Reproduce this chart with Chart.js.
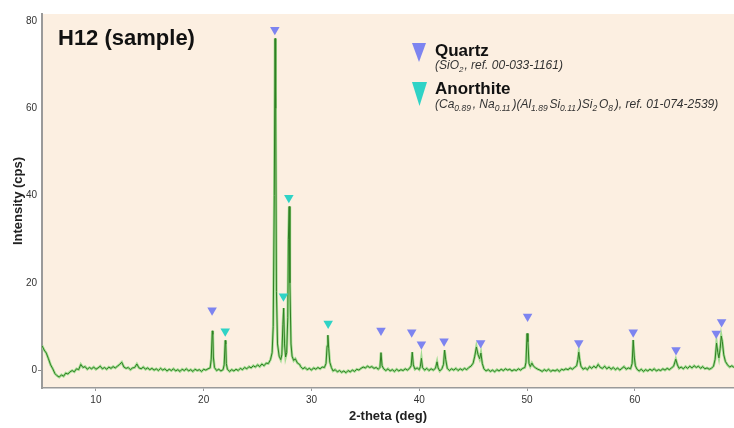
<!DOCTYPE html>
<html>
<head>
<meta charset="utf-8">
<script src="https://cdn.jsdelivr.net/npm/chart.js@4.4.1/dist/chart.umd.min.js"></script>
<style>
  body { margin: 0; background: #fff; }
  #wrap { width: 734px; height: 428px; }
</style>
</head>
<body>
<div id="wrap"><canvas id="xrdChart" width="734" height="428"></canvas></div>
<script>
// --- DATA ---
const twoTheta = [
  5.0, 5.2, 5.4, 5.6, 5.8, 6.0, 6.2, 6.4, 6.6, 6.8, 7.0, 7.2, 7.4, 7.6, 7.8, 8.0, 8.2, 8.4, 8.6, 8.8,
  9.0, 9.2, 9.4, 9.6, 9.8, 10.0, 10.2, 10.4, 10.6, 10.8, 11.0, 11.2, 11.4, 11.6, 11.8, 12.0, 12.2, 12.4, 12.6, 12.8,
  13.0, 13.2, 13.4, 13.6, 13.8, 14.0, 14.2, 14.4, 14.6, 14.8, 15.0, 15.2, 15.4, 15.6, 15.8, 16.0, 16.2, 16.4, 16.6, 16.8,
  17.0, 17.2, 17.4, 17.6, 17.8, 18.0, 18.2, 18.4, 18.6, 18.8, 19.0, 19.2, 19.4, 19.6, 19.8, 20.0, 20.2, 20.4, 20.6, 20.7,
  20.8, 20.85, 20.9, 21.0, 21.2, 21.4, 21.6, 21.8, 21.9, 22.0, 22.05, 22.1, 22.2, 22.4, 22.6, 22.8, 23.0, 23.2, 23.4, 23.6,
  23.8, 24.0, 24.2, 24.4, 24.6, 24.8, 25.0, 25.2, 25.4, 25.6, 25.8, 26.0, 26.2, 26.35, 26.45, 26.55, 26.62, 26.68, 26.75, 26.85,
  27.0, 27.15, 27.25, 27.35, 27.42, 27.5, 27.6, 27.7, 27.8, 27.86, 27.93, 28.0, 28.1, 28.2, 28.35, 28.5, 28.7, 28.9, 29.0, 29.2,
  29.4, 29.6, 29.8, 30.0, 30.2, 30.4, 30.6, 30.8, 31.0, 31.2, 31.35, 31.45, 31.52, 31.6, 31.7, 31.85, 32.0, 32.2, 32.4, 32.6,
  32.8, 33.0, 33.2, 33.4, 33.6, 33.8, 34.0, 34.2, 34.4, 34.6, 34.8, 35.0, 35.2, 35.4, 35.6, 35.8, 36.0, 36.2, 36.35, 36.45,
  36.55, 36.7, 36.9, 37.1, 37.3, 37.5, 37.7, 37.9, 38.1, 38.3, 38.5, 38.7, 38.9, 39.1, 39.25, 39.35, 39.45, 39.6, 39.8, 40.0,
  40.1, 40.2, 40.3, 40.5, 40.7, 40.9, 41.1, 41.3, 41.5, 41.65, 41.75, 41.9, 42.1, 42.25, 42.35, 42.45, 42.6, 42.8, 43.0, 43.2,
  43.4, 43.6, 43.8, 44.0, 44.2, 44.4, 44.6, 44.8, 45.0, 45.15, 45.3, 45.45, 45.6, 45.72, 45.85, 46.0, 46.2, 46.4, 46.6, 46.8,
  47.0, 47.2, 47.4, 47.6, 47.8, 48.0, 48.2, 48.4, 48.6, 48.8, 49.0, 49.2, 49.4, 49.6, 49.8, 49.9, 50.0, 50.08, 50.18, 50.3,
  50.45, 50.6, 50.8, 51.0, 51.2, 51.4, 51.6, 51.8, 52.0, 52.2, 52.4, 52.6, 52.8, 53.0, 53.2, 53.4, 53.6, 53.8, 54.0, 54.2,
  54.4, 54.6, 54.72, 54.8, 54.9, 55.0, 55.2, 55.4, 55.6, 55.8, 56.0, 56.2, 56.4, 56.6, 56.8, 57.0, 57.2, 57.4, 57.6, 57.8,
  58.0, 58.2, 58.4, 58.6, 58.8, 59.0, 59.2, 59.4, 59.6, 59.75, 59.85, 59.95, 60.05, 60.2, 60.4, 60.6, 60.8, 61.0, 61.2, 61.4,
  61.6, 61.8, 62.0, 62.2, 62.4, 62.6, 62.8, 63.0, 63.2, 63.4, 63.6, 63.8, 63.95, 64.1, 64.3, 64.5, 64.7, 64.9, 65.1, 65.3,
  65.5, 65.7, 65.9, 66.1, 66.3, 66.5, 66.7, 66.9, 67.1, 67.3, 67.45, 67.58, 67.7, 67.8, 67.92, 68.02, 68.12, 68.25, 68.4, 68.6,
  68.8, 69.0, 69.2
];
const intensity = [
  5.6, 4.6, 3.9, 2.6, 1.2, 0.3, -0.8, -1.3, -1.6, -1.1, -1.4, -0.7, -0.9, -0.4, -0.1, -0.4, 0.3, 0.1, 1.3, 0.6,
  0.8, 0.2, 0.6, 0.3, 0.7, 0.2, 0.5, 0.9, 0.3, 0.6, 0.2, 0.7, 0.4, 0.8, 0.5, 0.9, 1.3, 1.8, 0.7, 0.4,
  0.6, 0.1, 0.5, 0.6, 1.4, 0.5, 0.3, 0.7, 0.2, 0.5, 0.1, 0.4, 0.0, 0.3, -0.1, 0.4, 0.0, 0.3, -0.2, 0.2,
  -0.1, 0.3, -0.2, 0.1, -0.3, 0.2, -0.1, 0.3, -0.2, 0.1, -0.3, 0.2, -0.1, 0.1, -0.3, 0.2, 0.0, 0.3, 0.5, 2.5,
  9.0, 8.2, 3.0, 0.6, -0.1, 0.2, -0.2, 0.1, 1.2, 6.8, 6.0, 1.5, 0.2, -0.3, 0.1, -0.2, 0.2, -0.1, 0.4, 0.1,
  0.6, 0.3, 0.8, 0.5, 1.0, 0.7, 1.2, 0.8, 1.4, 1.0, 1.6, 1.5, 2.4, 4.0, 10.0, 40.0, 76.0, 60.0, 18.0, 6.0,
  3.2, 2.4, 3.5, 10.5, 14.2, 6.0, 3.0, 4.0, 12.0, 30.0, 37.5, 20.0, 6.0, 3.2, 2.2, 2.6, 1.6, 1.3, 0.8, 0.3,
  0.6, 0.1, 0.4, 0.0, 0.5, 0.2, 0.6, 0.3, 0.7, 0.6, 1.5, 5.5, 8.0, 5.0, 1.8, 0.6, -0.2, 0.1, -0.4, -0.1,
  -0.5, -0.2, -0.6, -0.1, -0.4, 0.0, -0.3, 0.2, 0.0, 0.4, 0.7, 0.5, 0.9, 0.6, 0.8, 0.4, 0.6, 0.2, 0.6, 4.0,
  1.0, 0.3, -0.1, 0.3, -0.2, 0.1, -0.3, 0.2, -0.2, 0.1, -0.1, 0.3, 0.0, 0.4, 1.0, 4.1, 1.2, 0.2, 0.5, 0.1,
  0.8, 2.7, 0.6, 0.0, 0.4, -0.1, 0.3, 0.0, 0.4, 1.9, 0.5, -0.2, 0.3, 1.3, 4.6, 2.5, 0.4, -0.1, 0.3, 0.0,
  0.4, -0.1, 0.3, 0.0, 0.4, 0.1, 0.6, 0.9, 1.6, 3.2, 5.3, 3.6, 2.6, 3.9, 1.5, 0.3, -0.2, 0.1, -0.3, 0.0,
  -0.4, 0.1, -0.2, 0.2, -0.1, 0.3, 0.0, 0.2, -0.2, 0.1, -0.1, 0.3, 0.0, 0.4, 0.6, 1.8, 8.4, 6.5, 1.5, 0.8,
  1.6, 0.9, 0.5, 0.2, 0.0, -0.3, 0.1, -0.2, 0.2, -0.3, 0.0, -0.2, 0.1, -0.3, 0.2, 0.0, 0.3, 0.1, 0.5, 0.2,
  0.6, 1.0, 2.5, 4.1, 2.2, 0.9, 0.2, 0.5, 0.1, 0.8, 0.4, 0.9, 0.5, 1.3, 0.6, 0.4, 0.9, 0.3, 0.7, 0.2,
  0.6, 0.1, 0.5, 0.0, 0.4, 0.8, 0.2, 0.5, 0.3, 1.5, 6.9, 3.0, 1.0, 0.2, -0.2, 0.2, -0.3, 0.1, -0.2, 0.2,
  -0.1, 0.3, -0.2, 0.1, -0.1, 0.3, 0.0, 0.4, 0.1, 0.5, 0.9, 2.5, 1.2, 0.4, 0.7, 0.3, 0.8, 0.4, 0.9, 0.5,
  1.0, 0.6, 0.9, 0.4, 0.8, 0.3, 0.5, 0.2, 0.4, 0.9, 2.5, 6.2, 4.0, 2.8, 5.0, 7.8, 6.5, 3.5, 2.0, 1.2,
  0.7, 1.0, 0.6
];

// phase markers (peak position, marker height)
const quartzPeaks = [20.78, 26.6, 36.45, 39.3, 40.2, 42.3, 45.7, 50.05, 54.8, 59.85, 63.82, 67.55, 68.05];
const quartzMarks = [13.7, 78.0, 9.1, 8.7, 5.9, 6.6, 6.2, 12.3, 6.2, 8.7, 4.6, 8.4, 11.0];
const anorthitePeaks = [22.0, 27.4, 27.9, 31.55];
const anorthiteMarks = [8.9, 16.9, 39.5, 10.7];

const xTicks = [10, 20, 30, 40, 50, 60];
const yTicks = [0, 20, 40, 60, 80];

const FONT = '"Liberation Sans", Arial, Helvetica, sans-serif';
const QUARTZ_COLOR = '#7d84f0';
const ANORTHITE_COLOR = '#2fd3c6';

const patternPoints = twoTheta.map((t, i) => ({ x: t, y: intensity[i] }));

// peach plot area
const plotBackground = {
  id: 'plotBackground',
  beforeDraw(chart) {
    const { ctx, chartArea: a } = chart;
    ctx.save();
    ctx.fillStyle = '#fcefe1';
    ctx.fillRect(a.left, a.top, a.right - a.left, a.bottom - a.top);
    ctx.restore();
  }
};

// draws italic text with subscript parts: [[text, isSub], ...]
function drawRich(ctx, x, y, parts, size, subSize, subGap) {
  parts.forEach(([txt, sub]) => {
    ctx.font = 'italic ' + (sub ? subSize : size) + 'px ' + FONT;
    ctx.fillText(txt, x, sub ? y + 3 : y);
    x += ctx.measureText(txt).width + (sub ? subGap : 0);
  });
}

function downTriangle(ctx, left, top, w, h, color) {
  ctx.fillStyle = color;
  ctx.beginPath();
  ctx.moveTo(left, top);
  ctx.lineTo(left + w, top);
  ctx.lineTo(left + w / 2, top + h);
  ctx.closePath();
  ctx.fill();
}

// title and phase legend
const annotations = {
  id: 'annotations',
  afterDraw(chart) {
    const ctx = chart.ctx;
    ctx.save();
    ctx.textBaseline = 'alphabetic';
    ctx.fillStyle = '#111';
    ctx.font = 'bold 22px ' + FONT;
    ctx.fillText('H12 (sample)', 58, 45);

    downTriangle(ctx, 412, 43, 14, 19, QUARTZ_COLOR);
    downTriangle(ctx, 412, 82, 15, 24, ANORTHITE_COLOR);

    ctx.fillStyle = '#111';
    ctx.font = 'bold 17px ' + FONT;
    ctx.fillText('Quartz', 435, 56);
    ctx.fillText('Anorthite', 435, 94);

    ctx.fillStyle = '#333';
    drawRich(ctx, 435, 69, [['(SiO', 0], ['2', 1], [', ref. 00-033-1161)', 0]], 12, 8, 1);
    drawRich(ctx, 435, 108, [
      ['(Ca', 0], ['0.89', 1], [', Na', 0], ['0.11', 1], [')(Al', 0], ['1.89', 1], ['Si', 0], ['0.11', 1],
      [')Si', 0], ['2', 1], ['O', 0], ['8', 1], ['), ref. 01-074-2539)', 0]
    ], 12, 8.5, 1.8);
    ctx.restore();
  }
};

const ctx = document.getElementById('xrdChart').getContext('2d');
const xrdChart = new Chart(ctx, {
  type: 'line',
  data: {
    datasets: [
      {
        type: 'scatter', order: 0,
        data: quartzPeaks.map((t, i) => ({ x: t, y: quartzMarks[i] })),
        pointStyle: 'triangle', rotation: 180, radius: 5.5, hoverRadius: 5.5,
        backgroundColor: QUARTZ_COLOR, borderColor: QUARTZ_COLOR, borderWidth: 0
      },
      {
        type: 'scatter', order: 0,
        data: anorthitePeaks.map((t, i) => ({ x: t, y: anorthiteMarks[i] })),
        pointStyle: 'triangle', rotation: 180, radius: 5.5, hoverRadius: 5.5,
        backgroundColor: ANORTHITE_COLOR, borderColor: ANORTHITE_COLOR, borderWidth: 0
      },
      { // dark core of the trace
        order: 1,
        data: patternPoints, borderColor: '#2f7f22', borderWidth: 1,
        pointRadius: 0, tension: 0, fill: false
      },
      { // light halo of the trace (drawn underneath)
        order: 2,
        data: patternPoints, borderColor: '#a3dc92', borderWidth: 2.6,
        pointRadius: 0, tension: 0, fill: false
      }
    ]
  },
  options: {
    responsive: false,
    animation: false,
    devicePixelRatio: 1,
    layout: { autoPadding: false, padding: { top: 14, right: 0, left: 0, bottom: 0 } },
    plugins: { legend: { display: false }, tooltip: { enabled: false } },
    scales: {
      x: {
        type: 'linear', min: 5, max: 69.2,
        afterFit: s => { s.height = 40; s.paddingLeft = 0; s.paddingRight = 0; },
        afterBuildTicks: s => { s.ticks = xTicks.map(v => ({ value: v })); },
        ticks: { color: '#333', font: { size: 10, family: FONT }, padding: 3, maxRotation: 0 },
        grid: { drawOnChartArea: false, tickLength: 3, tickColor: '#999' },
        border: { color: '#9a9a9a', width: 1.5 },
        title: {
          display: true, text: '2-theta (deg)', color: '#222',
          font: { size: 13, weight: 'bold', family: FONT }, padding: { top: 0, bottom: 4 }
        }
      },
      y: {
        min: -4.1, max: 81.6,
        afterFit: s => { s.width = 42; s.paddingTop = 0; s.paddingBottom = 0; },
        afterBuildTicks: s => { s.ticks = yTicks.map(v => ({ value: v })); },
        ticks: { color: '#333', font: { size: 10, family: FONT }, padding: 1 },
        grid: {
          drawOnChartArea: false, tickLength: 4,
          tickColor: c => (c.tick && c.tick.value === 0 ? '#888' : 'rgba(0,0,0,0)')
        },
        border: { color: '#9a9a9a', width: 2 },
        title: {
          display: true, text: 'Intensity (cps)', color: '#222',
          font: { size: 13, weight: 'bold', family: FONT }, padding: { top: 11, bottom: 0 }
        }
      }
    }
  },
  plugins: [plotBackground, annotations]
});
</script>
</body>
</html>
